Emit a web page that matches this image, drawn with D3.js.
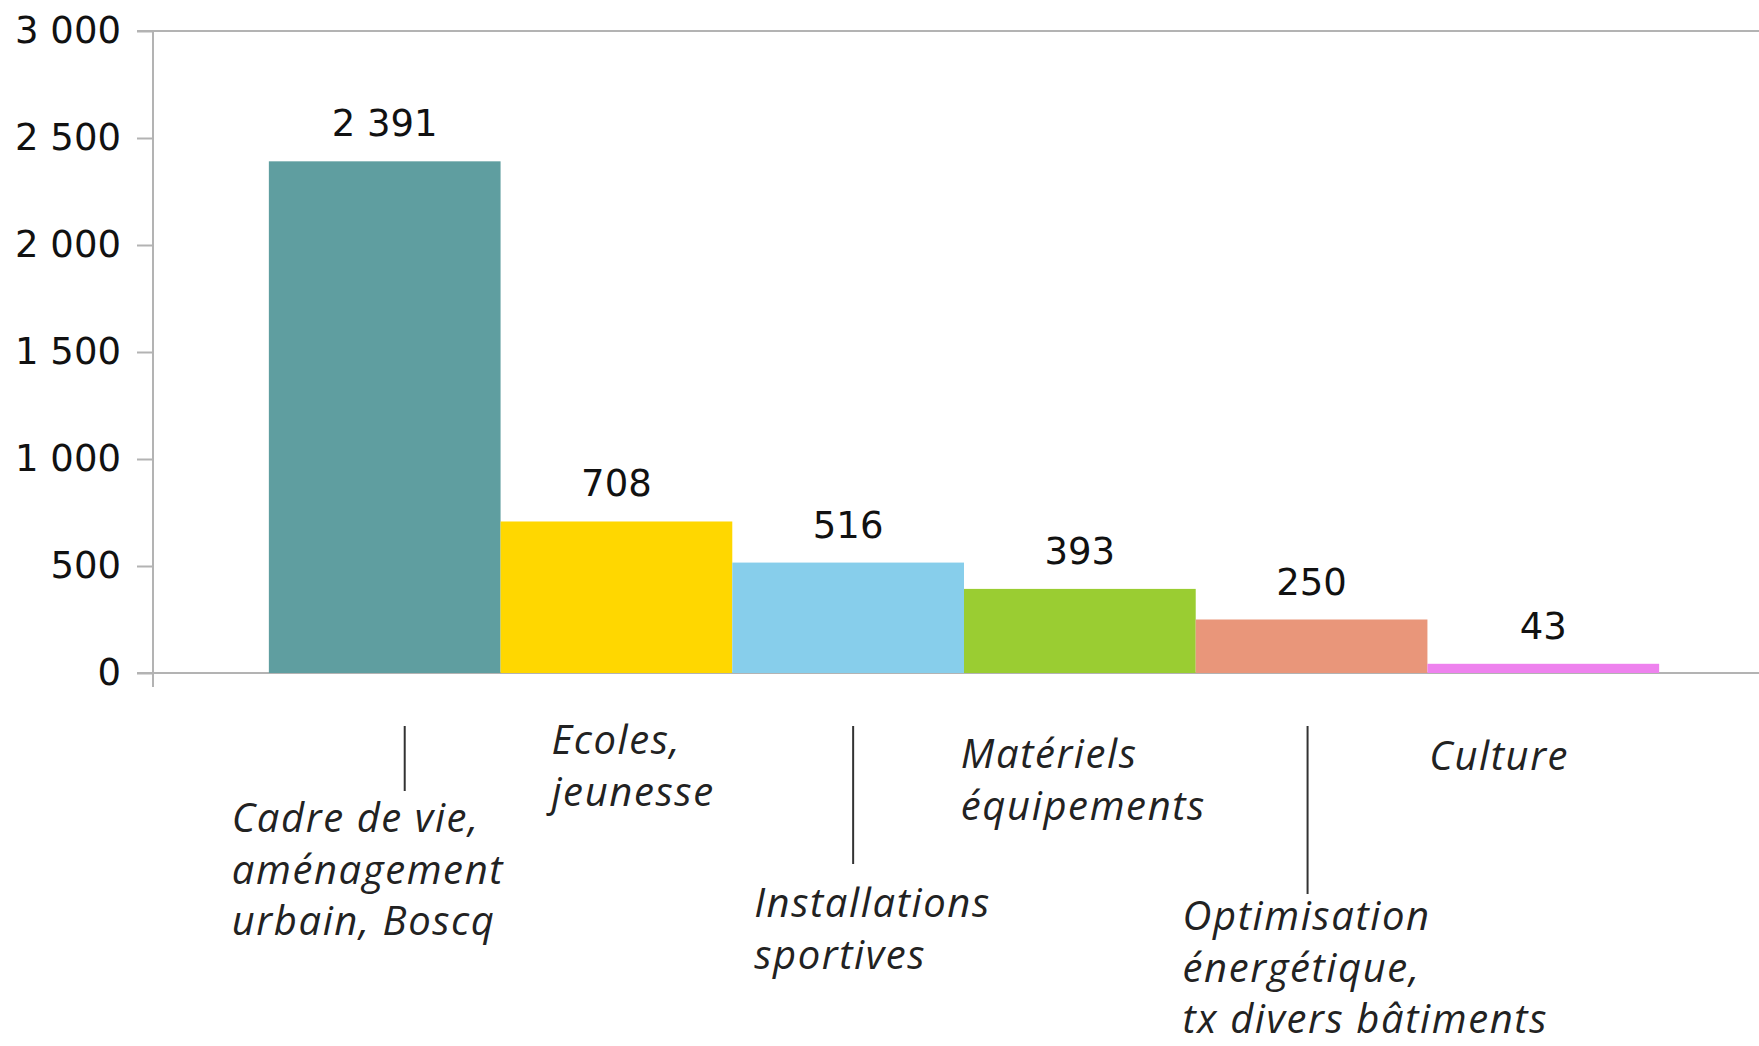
<!DOCTYPE html>
<html>
<head>
<meta charset="utf-8">
<script src="https://cdn.jsdelivr.net/npm/d3@7"></script>
<style>
  body { margin: 0; background: #fff; }
  svg { display: block; }
</style>
</head>
<body>
<svg id="chart" width="1759" height="1046"></svg>
<script>
// data
var categories = [
  ["Cadre de vie,", "aménagement", "urbain, Boscq"],
  ["Ecoles,", "jeunesse"],
  ["Installations", "sportives"],
  ["Matériels", "équipements"],
  ["Optimisation", "énergétique,", "tx divers bâtiments"],
  ["Culture"]
];
var values = [2391, 708, 516, 393, 250, 43];
var colors = ["cadetblue", "gold", "skyblue", "yellowgreen", "darksalmon", "violet"];
var yTicks = [0, 500, 1000, 1500, 2000, 2500, 3000];

// hand placement of the category labels (as in the original slide)
var labelLayout = [
  { dx: -153, y: 832, tick: 791, tickDx: 20 },
  { dx: -65, y: 754 },
  { dx: -94, y: 917, tick: 864, tickDx: 5 },
  { dx: -119, y: 768 },
  { dx: -129, y: 930, tick: 894, tickDx: -4 },
  { dx: -114, y: 770 }
];

var svg = d3.select("#chart");
var fr = d3.formatLocale({ decimal: ",", thousands: " ", grouping: [3], currency: ["", " €"] });
var fmt = fr.format(",d");

var x = d3.scaleBand()
  .domain(d3.range(values.length))
  .range([153, 1775])
  .paddingInner(0)
  .paddingOuter(0.5);

var y = d3.scaleLinear().domain([0, 3000]).range([673, 31]);

var gridColor = "#b3b3b3";

// top gridline and baseline
svg.selectAll("line.grid")
  .data([0, 3000])
  .enter().append("line")
  .attr("class", "grid")
  .attr("x1", 137).attr("x2", 1759)
  .attr("y1", d => y(d)).attr("y2", d => y(d))
  .attr("stroke", gridColor).attr("stroke-width", 2);

// y axis
var yAxis = d3.axisLeft(y).tickValues(yTicks).tickFormat(fmt).tickSize(16).tickPadding(16);
var gy = svg.append("g").attr("transform", "translate(153,0)").call(yAxis);
gy.select(".domain").remove();
gy.selectAll(".tick line").attr("stroke", gridColor).attr("stroke-width", 2);
gy.selectAll(".tick text")
  .attr("fill", "#111")
  .style("font-family", "'DejaVu Sans', sans-serif")
  .style("font-size", "37px");
svg.append("line")
  .attr("x1", 153).attr("x2", 153)
  .attr("y1", y(3000)).attr("y2", y(0) + 14)
  .attr("stroke", gridColor).attr("stroke-width", 2);

// bars
svg.selectAll("rect.bar")
  .data(values)
  .enter().append("rect")
  .attr("class", "bar")
  .attr("x", (d, i) => x(i))
  .attr("width", x.bandwidth())
  .attr("y", d => y(d))
  .attr("height", d => y(0) - y(d))
  .attr("fill", (d, i) => colors[i]);

// value labels
svg.selectAll("text.val")
  .data(values)
  .enter().append("text")
  .attr("class", "val")
  .attr("x", (d, i) => x(i) + x.bandwidth() / 2)
  .attr("y", d => y(d) - 25)
  .attr("text-anchor", "middle")
  .attr("fill", "#111")
  .style("font-family", "'DejaVu Sans', sans-serif")
  .style("font-size", "37px")
  .text(d => fmt(d));

// category ticks (only every other category has one)
svg.selectAll("line.cat")
  .data(labelLayout.map((l, i) => ({ l: l, i: i })).filter(d => d.l.tick))
  .enter().append("line")
  .attr("class", "cat")
  .attr("x1", d => x(d.i) + x.bandwidth() / 2 + d.l.tickDx)
  .attr("x2", d => x(d.i) + x.bandwidth() / 2 + d.l.tickDx)
  .attr("y1", 726)
  .attr("y2", d => d.l.tick)
  .attr("stroke", "#333").attr("stroke-width", 2);

// category labels
var lab = svg.selectAll("text.cat")
  .data(categories)
  .enter().append("text")
  .attr("class", "cat")
  .attr("x", (d, i) => x(i) + x.bandwidth() / 2 + labelLayout[i].dx)
  .attr("y", (d, i) => labelLayout[i].y)
  .attr("fill", "#222")
  .style("font-family", "'Open Sans', sans-serif")
  .style("font-style", "italic")
  .style("font-size", "40px")
  .style("letter-spacing", "1.6px");

lab.selectAll("tspan")
  .data(d => d)
  .enter().append("tspan")
  .attr("x", function () { return d3.select(this.parentNode).attr("x"); })
  .attr("dy", (d, i) => i === 0 ? 0 : 51.6)
  .text(d => d);
</script>
</body>
</html>
